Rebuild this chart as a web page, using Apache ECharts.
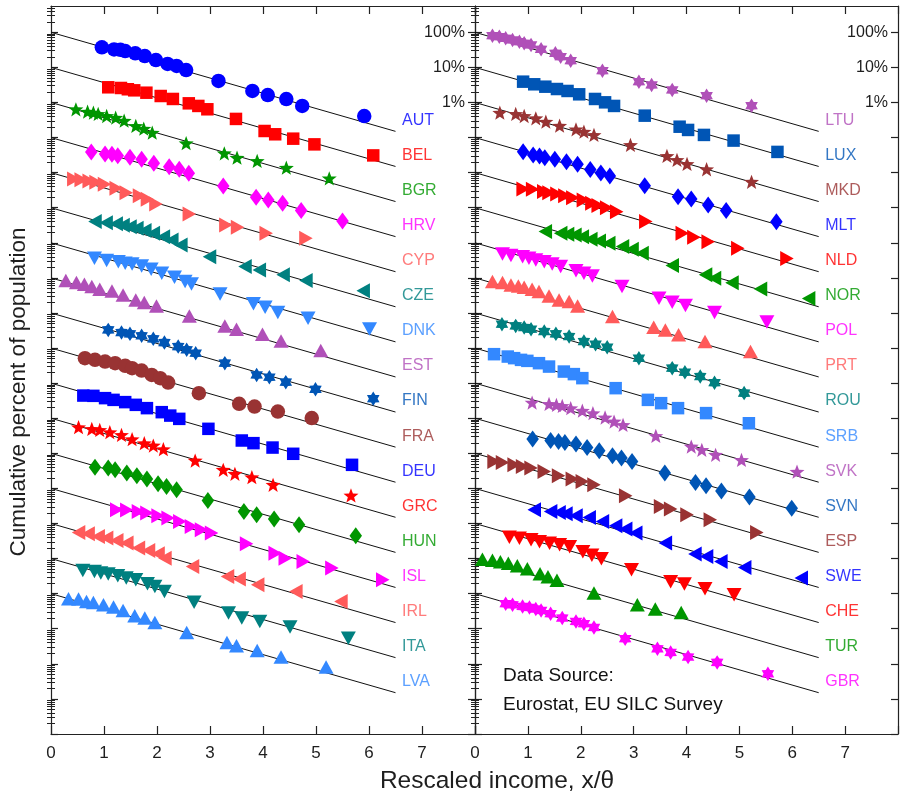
<!DOCTYPE html>
<html>
<head>
<meta charset="utf-8">
<script src="https://cdn.jsdelivr.net/npm/echarts@6/dist/echarts.min.js"></script>
<style>
  html, body { margin: 0; padding: 0; background: #fff; }
  #chart { width: 901px; height: 796px; }
</style>
</head>
<body>
<div id="chart"></div>
<script>
// rescaled income (x/theta) and cumulative percent for each country
const AUT_x = [0.96,1.19,1.31,1.40,1.59,1.77,1.98,2.20,2.37,2.55,3.16,3.80,4.09,4.44,4.74,5.91]
const AUT_p = [37.4,32.6,31.7,29.3,25.2,21.1,16.2,12.5,11.0,8.4,4.1,2.14,1.63,1.25,0.80,0.41]
const BEL_x = [1.08,1.32,1.45,1.57,1.80,2.07,2.30,2.60,2.78,2.95,3.49,4.03,4.23,4.57,4.97,6.08]
const BEL_p = [27.1,25.9,23.8,22.2,19.0,15.3,12.6,9.46,7.97,6.4,3.4,1.54,1.24,0.93,0.64,0.31]
const BGR_x = [0.47,0.69,0.80,0.89,1.05,1.22,1.38,1.60,1.75,1.91,2.55,3.27,3.51,3.89,4.44,5.25]
const BGR_p = [64.0,54.7,51.2,47.0,41.2,36.9,30.3,21.4,17.9,13.8,6.9,3.57,2.68,2.16,1.39,0.69]
const HRV_x = [0.76,1.02,1.15,1.26,1.49,1.71,1.94,2.23,2.42,2.60,3.25,3.87,4.10,4.37,4.72,5.50]
const HRV_p = [38.9,34.1,33.4,30.5,27.5,24.1,18.5,14.8,12.5,9.6,4.18,1.99,1.67,1.34,0.83,0.42]
const CYP_x = [0.43,0.57,0.72,0.85,1.01,1.23,1.42,1.67,1.82,1.98,2.61,3.30,3.52,4.06,4.81]
const CYP_p = [66.1,63.2,58.0,53.3,46.7,35.9,26.9,22.1,17.5,12.8,6.66,3.24,2.78,1.88,1.35]
const CZE_x = [0.83,1.04,1.23,1.36,1.49,1.62,1.77,1.93,2.12,2.28,2.45,2.99,3.66,3.93,4.38,4.81,5.89]
const CZE_p = [40.2,37.6,35.2,31.7,28.9,26.1,22.3,18.8,15.0,12.1,8.7,4.04,2.10,1.69,1.22,0.84,0.43]
const DNK_x = [0.82,1.05,1.27,1.40,1.53,1.71,1.89,2.09,2.33,2.53,2.65,3.19,3.82,4.04,4.28,4.85,6.01]
const DNK_p = [36.4,31.1,29.1,26.2,25.1,22.0,17.7,13.6,10.5,7.84,6.75,3.50,1.82,1.46,1.03,0.71,0.35]
const EST_x = [0.28,0.48,0.63,0.77,0.92,1.15,1.36,1.60,1.76,1.99,2.61,3.28,3.50,3.99,4.34,5.09]
const EST_p = [83.8,73.5,66.1,56.5,47.7,42.6,32.8,23.6,19.8,15.9,8.27,4.29,3.46,2.49,1.60,0.85]
const FIN_x = [1.08,1.33,1.49,1.71,1.93,2.14,2.40,2.56,2.73,3.28,3.88,4.12,4.43,4.99,6.08]
const FIN_p = [33.0,27.6,25.4,22.3,18.3,14.3,11.0,8.9,7.16,3.72,1.72,1.48,1.07,0.67,0.36]
const FRA_x = [0.64,0.83,1.02,1.21,1.40,1.53,1.71,1.90,2.06,2.21,2.79,3.55,3.84,4.28,4.92]
const FRA_p = [51.6,46.1,41.2,37.1,31.1,26.8,22.9,17.2,13.9,10.4,5.19,2.57,2.16,1.55,1.01]
const DEU_x = [0.61,0.80,1.02,1.18,1.40,1.60,1.81,2.09,2.25,2.42,2.97,3.60,3.82,4.18,4.57,5.68]
const DEU_p = [44.3,43.5,37.4,33.4,28.8,24.1,19.4,14.9,11.9,9.6,4.99,2.32,1.95,1.46,0.97,0.47]
const GRC_x = [0.52,0.77,0.92,1.11,1.33,1.53,1.76,1.93,2.12,2.72,3.25,3.47,3.79,4.19,5.66]
const GRC_p = [55.8,49.9,46.7,40.2,33.7,25.4,19.5,16.7,13.2,6.24,3.4,2.61,2.10,1.27,0.63]
const HUN_x = [0.83,1.08,1.21,1.43,1.62,1.81,2.02,2.18,2.37,2.96,3.64,3.88,4.21,4.68,5.75]
const HUN_p = [40.4,37.9,33.9,27.3,22.9,18.4,13.5,11.3,9.1,4.52,2.20,1.77,1.34,0.92,0.45]
const ISL_x = [1.24,1.43,1.65,1.81,2.02,2.21,2.43,2.65,2.84,3.03,3.69,4.23,4.42,4.76,5.30,6.26]
const ISL_p = [24.6,24.2,22.0,19.8,16.6,14.3,11.4,8.2,6.6,5.33,2.64,1.43,1.03,0.83,0.54,0.25]
const IRL_x = [0.52,0.70,0.89,1.05,1.24,1.43,1.65,1.84,2.02,2.15,2.67,3.33,3.55,3.90,4.62,5.47]
const IRL_p = [55.4,50.9,42.6,38.4,32.8,27.6,19.9,17.0,13.7,10.3,5.96,3.09,2.61,1.79,1.16,0.60]
const ITA_x = [0.60,0.82,0.94,1.08,1.26,1.42,1.60,1.82,1.96,2.14,2.70,3.35,3.60,3.94,4.51,5.61]
const ITA_p = [45.8,42.9,38.6,36.2,32.4,27.8,24.9,19.1,16.0,11.6,5.69,2.80,2.02,1.61,1.12,0.54]
const LVA_x = [0.33,0.52,0.67,0.80,0.99,1.18,1.36,1.58,1.77,1.96,2.56,3.32,3.50,3.89,4.34,5.19]
const LVA_p = [71.6,70.2,60.0,56.1,48.3,41.5,33.2,23.5,20.2,15.1,7.84,4.07,3.28,2.41,1.56,0.81]

const LTU_x = [0.33,0.46,0.58,0.71,0.84,0.93,1.06,1.25,1.52,1.62,1.81,2.41,3.10,3.34,3.73,4.38,5.23]
const LTU_p = [80.0,74.9,67.5,60.4,54.0,48.6,43.5,32.8,25.2,20.2,15.5,8.05,3.91,3.15,2.27,1.56,0.81]
const LUX_x = [0.91,1.12,1.33,1.55,1.75,1.97,2.27,2.46,2.63,3.21,3.87,4.03,4.33,4.89,5.72]
const LUX_p = [39.2,33.0,28.2,24.2,21.3,17.1,12.6,10.1,7.97,4.21,2.04,1.65,1.19,0.82,0.39]
const MKD_x = [0.47,0.77,0.93,1.15,1.34,1.60,1.91,2.06,2.25,2.94,3.63,3.82,4.01,4.38,5.23]
const MKD_p = [51.2,47.0,41.2,35.5,28.4,21.8,17.2,14.7,11.9,6.15,2.99,2.30,1.77,1.25,0.55]
const MLT_x = [0.91,1.10,1.22,1.32,1.51,1.73,1.94,2.18,2.38,2.55,3.21,3.84,4.09,4.41,4.75,5.70]
const MLT_p = [39.7,31.9,29.9,26.8,24.1,20.6,17.4,12.3,9.8,7.97,4.26,2.07,1.78,1.20,0.83,0.40]
const NLD_x = [0.91,1.09,1.30,1.40,1.55,1.70,1.85,2.05,2.21,2.33,2.49,2.68,3.23,3.92,4.14,4.41,4.97,5.90]
const NLD_p = [34.3,33.6,28.8,26.9,24.7,22.1,19.4,16.7,13.4,11.5,10.0,7.74,4.02,1.88,1.44,1.08,0.70,0.36]
const NOR_x = [1.33,1.62,1.75,1.89,2.03,2.19,2.35,2.53,2.79,2.97,3.16,3.73,4.36,4.53,4.86,5.40,6.31]
const NOR_p = [20.9,18.8,17.6,16.8,15.0,12.7,11.3,9.7,7.8,6.57,5.05,2.24,1.22,0.98,0.73,0.48,0.26]
const POL_x = [0.52,0.68,0.90,1.02,1.15,1.31,1.46,1.62,1.91,2.06,2.22,2.78,3.48,3.73,3.98,4.53,5.52]
const POL_p = [48.3,43.2,40.4,36.4,32.6,29.1,25.1,21.0,16.1,13.6,11.4,5.65,2.64,2.03,1.63,1.03,0.55]
const PRT_x = [0.33,0.52,0.68,0.82,0.93,1.08,1.21,1.40,1.59,1.78,1.94,2.60,3.38,3.60,3.85,4.35,5.21]
const PRT_p = [78.5,73.5,63.2,59.2,54.3,47.7,40.7,30.7,23.6,21.1,15.9,7.9,3.94,3.3,2.38,1.53,0.80]
const ROU_x = [0.51,0.77,0.93,1.06,1.31,1.53,1.78,2.06,2.28,2.50,3.10,3.73,3.97,4.26,4.53,5.09]
const ROU_p = [48.0,42.9,38.4,34.6,29.5,25.4,21.3,15.3,12.9,10.6,5.16,2.68,2.06,1.54,1.03,0.52]
const SRB_x = [0.36,0.62,0.74,0.87,0.99,1.21,1.40,1.68,1.87,2.03,2.66,3.27,3.52,3.84,4.37,5.18]
const SRB_p = [67.0,57.3,51.6,46.1,43.2,37.1,29.7,21.4,18.1,13.9,7.2,3.34,2.69,1.94,1.40,0.72]
const SVK_x = [1.08,1.40,1.54,1.65,1.81,2.03,2.23,2.46,2.63,2.80,3.42,4.09,4.29,4.55,5.04,6.09]
const SVK_p = [28.0,25.7,24.1,22.6,19.4,16.5,14.0,10.5,8.05,6.48,3.15,1.56,1.26,0.91,0.65,0.30]
const SVN_x = [1.09,1.43,1.58,1.70,1.91,2.12,2.35,2.60,2.77,2.97,3.59,4.17,4.37,4.66,5.19,5.99]
const SVN_p = [25.4,23.2,21.7,20.3,18.3,14.6,11.8,8.5,7.3,5.84,2.73,1.47,1.19,0.85,0.57,0.27]
const ESP_x = [0.36,0.52,0.74,0.90,1.06,1.31,1.58,1.84,2.03,2.25,2.85,3.51,3.70,4.01,4.45,5.33]
const ESP_p = [58.4,54.7,47.0,42.1,37.9,30.3,22.9,18.4,15.7,12.7,6.15,3.05,2.57,1.77,1.27,0.55]
const SWE_x = [1.12,1.43,1.59,1.72,1.91,2.16,2.41,2.66,2.85,3.04,3.60,4.16,4.38,4.65,5.10,6.17]
const SWE_p = [24.6,22.0,20.6,18.9,16.6,14.8,11.4,8.6,6.93,5.33,2.76,1.34,1.15,0.83,0.56,0.28]
const CHE_x = [0.65,0.84,1.06,1.22,1.41,1.60,1.79,2.04,2.21,2.39,2.96,3.70,3.96,4.35,4.90]
const CHE_p = [40.4,37.9,34.3,30.1,27.3,24.7,21.7,15.6,12.4,9.87,4.80,2.2,1.88,1.38,0.93]
const TUR_x = [0.14,0.33,0.48,0.63,0.80,0.99,1.23,1.38,1.55,2.25,3.07,3.41,3.90]
const TUR_p = [95.5,89.5,81.1,73.5,62.4,51.2,36.9,30.3,24.1,10.4,4.83,3.64,2.91]
const GBR_x = [0.58,0.71,0.90,1.03,1.15,1.25,1.43,1.65,1.91,2.06,2.25,2.84,3.45,3.70,4.03,4.58,5.54]
const GBR_p = [51.6,48.3,43.2,40.4,36.4,33.2,26.8,20.2,16.1,13.9,10.9,5.19,2.69,2.11,1.56,1.10,0.52]

const leftCountries = ['AUT','BEL','BGR','HRV','CYP','CZE','DNK','EST','FIN','FRA','DEU','GRC','HUN','ISL','IRL','ITA','LVA']
const rightCountries = ['LTU','LUX','MKD','MLT','NLD','NOR','POL','PRT','ROU','SRB','SVK','SVN','ESP','SWE','CHE','TUR','GBR']
const leftMarkers = ['circle','square','star','diamond','right','left','down','up','hexagram','circle','square','star','diamond','right','left','down','up']
const rightMarkers = ['hexagram','square','star','diamond','right','left','down','up','hexagram','square','star','diamond','right','left','down','up','hexagram']
const yTickLabels = [1, 10, 100]

const palette = ['#0000FF','#FF0000','#009600','#FF00FF','#FF5A5A','#008080','#3388FF','#B050B8','#0055B5','#993333']
const FONT = '"Liberation Sans", Arial, Helvetica, sans-serif'
const TEXT = '#1e1e1e'
const LINE_END = 6.5

const incomeX = {AUT_x,BEL_x,BGR_x,HRV_x,CYP_x,CZE_x,DNK_x,EST_x,FIN_x,FRA_x,DEU_x,GRC_x,HUN_x,ISL_x,IRL_x,ITA_x,LVA_x,
    LTU_x,LUX_x,MKD_x,MLT_x,NLD_x,NOR_x,POL_x,PRT_x,ROU_x,SRB_x,SVK_x,SVN_x,ESP_x,SWE_x,CHE_x,TUR_x,GBR_x}
const cumPct = {AUT_p,BEL_p,BGR_p,HRV_p,CYP_p,CZE_p,DNK_p,EST_p,FIN_p,FRA_p,DEU_p,GRC_p,HUN_p,ISL_p,IRL_p,ITA_p,LVA_p,
    LTU_p,LUX_p,MKD_p,MLT_p,NLD_p,NOR_p,POL_p,PRT_p,ROU_p,SRB_p,SVK_p,SVN_p,ESP_p,SWE_p,CHE_p,TUR_p,GBR_p}

// star shaped symbols (5 point pentagram, 6 point hexagram)
function starPath(n, inner) {
    let d = ''
    for (let i = 0; i < 2 * n; i++) {
        const r = i % 2 ? inner : 1
        const a = -Math.PI / 2 + i * Math.PI / n
        d += (i ? 'L' : 'M') + (50 + 50 * r * Math.cos(a)).toFixed(2) + ' ' + (50 + 50 * r * Math.sin(a)).toFixed(2)
    }
    return 'path://' + d + 'Z'
}
const STAR5 = starPath(5, 0.42)
const STAR6 = starPath(6, 0.6)

function markerStyle(m) {
    switch (m) {
        case 'circle': return {symbol: 'circle', symbolSize: 14.5}
        case 'square': return {symbol: 'rect', symbolSize: 12.5}
        case 'star': return {symbol: STAR5, symbolSize: 15, symbolKeepAspect: true}
        case 'diamond': return {symbol: 'diamond', symbolSize: [12.5, 17]}
        case 'right': return {symbol: 'triangle', symbolSize: [15, 13.5], symbolRotate: -90}
        case 'left': return {symbol: 'triangle', symbolSize: [15, 13.5], symbolRotate: 90}
        case 'down': return {symbol: 'triangle', symbolSize: [15, 13.5], symbolRotate: 180}
        case 'up': return {symbol: 'triangle', symbolSize: [15, 13.5]}
        default: return {symbol: STAR6, symbolSize: 14.5, symbolKeepAspect: true}
    }
}

// tick positions of the log axis: decades and the 2..9 sub divisions
const Y_MIN = 1e-18
const Y_MAX = Math.pow(10, 2.75)
const majorTicks = []
const minorTicks = []
for (let e = -18; e <= 2; e++) {
    majorTicks.push(Math.pow(10, e))
    for (let m = 2; m <= 9; m++) {
        const v = m * Math.pow(10, e)
        if (v < Y_MAX) minorTicks.push(v)
    }
}

const grids = [
    {left: 51, top: 6, width: 424, height: 728},
    {left: 475, top: 6, width: 425, height: 728}
]

const axisLineStyle = {color: '#222', width: 1.2}

function xAxes(gi) {
    const base = {
        gridIndex: gi, type: 'value', min: 0, max: 8, interval: 1,
        splitLine: {show: false},
        axisLine: {onZero: false, lineStyle: axisLineStyle},
        axisTick: {inside: true, length: 8, lineStyle: axisLineStyle}
    }
    return [
        Object.assign({}, base, {
            position: 'bottom',
            axisLabel: {margin: 11, fontSize: 17, color: TEXT, fontFamily: FONT,
                formatter: v => v === 8 ? '' : String(v)}
        }),
        Object.assign({}, base, {position: 'top', axisLabel: {show: false}})
    ]
}

function yAxes(gi) {
    const base = {
        gridIndex: gi, type: 'log', logBase: 10, min: Y_MIN, max: Y_MAX,
        splitLine: {show: false}, minorTick: {show: false}
    }
    const major = {inside: true, length: 7, customValues: majorTicks, lineStyle: axisLineStyle}
    const minor = {inside: true, length: 4, customValues: minorTicks, lineStyle: {color: '#222', width: 1}}
    return [
        Object.assign({}, base, {position: 'left', axisLine: {onZero: false, lineStyle: axisLineStyle},
            axisTick: major, axisLabel: {show: false}}),
        Object.assign({}, base, {position: 'left', axisLine: {show: false},
            axisTick: minor, axisLabel: {show: false}}),
        Object.assign({}, base, {position: 'right', axisLine: {onZero: false, lineStyle: axisLineStyle},
            axisTick: major,
            axisLabel: {show: true, inside: true, margin: 10, customValues: yTickLabels,
                fontSize: 16, color: TEXT, fontFamily: FONT,
                formatter: v => {
                    const r = Math.round(v)
                    return (r === 1 || r === 10 || r === 100) && Math.abs(v - r) < 1e-6 ? r + '%' : ''
                }}}),
        Object.assign({}, base, {position: 'right', axisLine: {show: false},
            axisTick: minor, axisLabel: {show: false}})
    ]
}

const series = []

function addPanel(gi, countries, markers, colorStart) {
    const labelData = []
    countries.forEach((name, k) => {
        const shift = Math.pow(10, -k)
        const color = palette[(colorStart + k) % palette.length]
        const xs = incomeX[name + '_x']
        const ps = cumPct[name + '_p']
        // exponential reference line, starting at 100% for each shifted decade
        series.push({
            type: 'line', xAxisIndex: gi * 2, yAxisIndex: gi * 4,
            data: [[0, 100 * shift], [LINE_END, 100 * shift * Math.exp(-LINE_END)]],
            symbol: 'none', silent: true, z: 2,
            lineStyle: {color: '#111', width: 1}
        })
        series.push(Object.assign({
            type: 'scatter', name: name, xAxisIndex: gi * 2, yAxisIndex: gi * 4,
            data: xs.map((x, i) => [x, ps[i] * shift]),
            itemStyle: {color: color, opacity: 1}, z: 3
        }, markerStyle(markers[k])))
        labelData.push({
            value: [LINE_END, 100 * shift * Math.exp(-LINE_END)], name: name,
            label: {color: color}
        })
    })
    series.push({
        type: 'scatter', xAxisIndex: gi * 2, yAxisIndex: gi * 4, silent: true, z: 4,
        symbolSize: 1, itemStyle: {color: 'transparent'},
        data: labelData,
        label: {show: true, position: 'right', distance: 6, offset: [0, -11],
            formatter: '{b}', fontSize: 16, fontFamily: FONT}
    })
}

addPanel(0, leftCountries, leftMarkers, 0)
addPanel(1, rightCountries, rightMarkers, leftCountries.length)

const chart = echarts.init(document.getElementById('chart'), null, {renderer: 'canvas'})
chart.setOption({
    animation: false,
    backgroundColor: '#fff',
    grid: grids,
    xAxis: xAxes(0).concat(xAxes(1)),
    yAxis: yAxes(0).concat(yAxes(1)),
    series: series,
    graphic: [
        {type: 'text', x: 19, y: 392, rotation: Math.PI / 2,
            style: {text: 'Cumulative percent of population', font: '22.5px ' + FONT, fill: TEXT,
                align: 'center', verticalAlign: 'middle'}},
        {type: 'text', x: 497, y: 781,
            style: {text: 'Rescaled income, x/θ', font: '24.5px ' + FONT, fill: TEXT,
                align: 'center', verticalAlign: 'middle'}},
        {type: 'text', x: 503, y: 676,
            style: {text: 'Data Source:', font: '19px ' + FONT, fill: '#111', verticalAlign: 'middle'}},
        {type: 'text', x: 503, y: 705,
            style: {text: 'Eurostat, EU SILC Survey', font: '19px ' + FONT, fill: '#111', verticalAlign: 'middle'}}
    ]
})
</script>
</body>
</html>
